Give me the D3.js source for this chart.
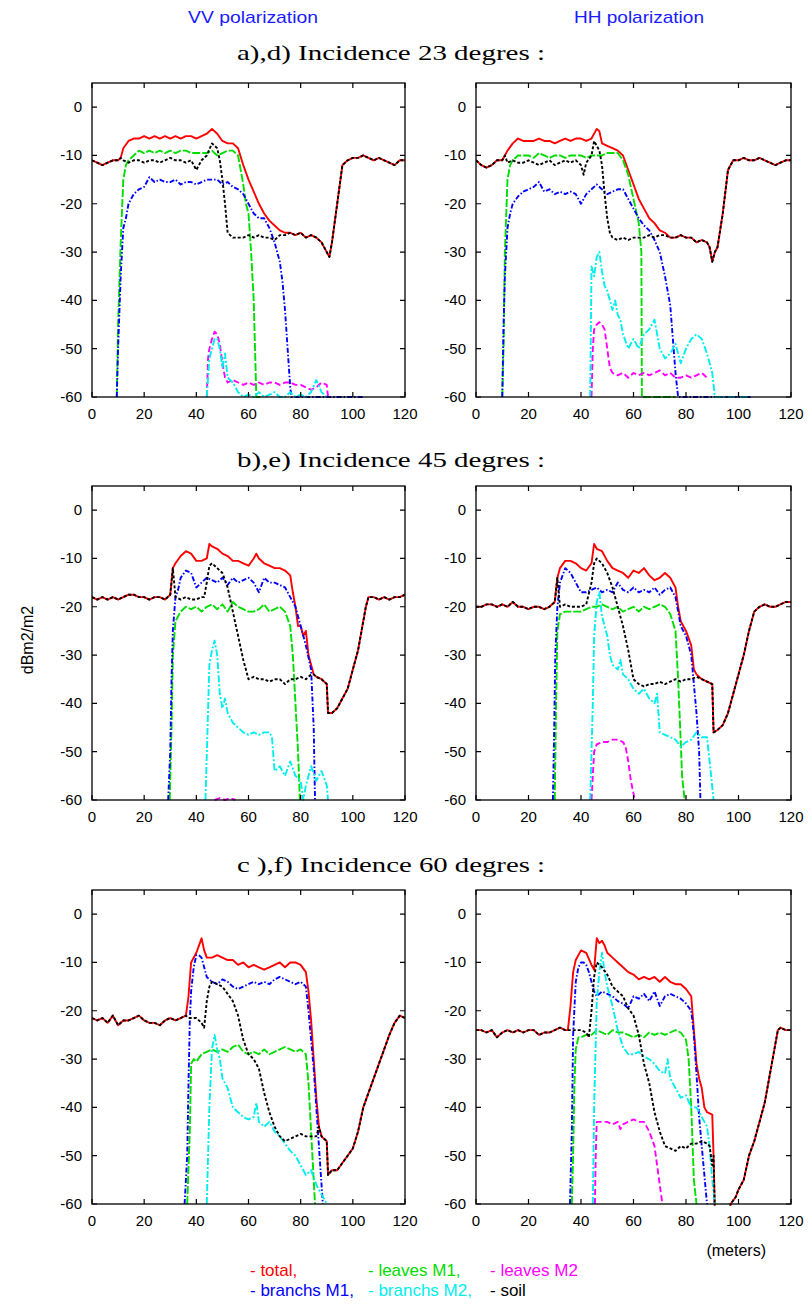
<!DOCTYPE html>
<html>
<head>
<meta charset="utf-8">
<script src="https://cdn.jsdelivr.net/npm/d3@7"></script>
<style>
  body { margin: 0; background: #fff; }
  svg { display: block; }
</style>
</head>
<body>
<div id="container"></div>
<script>
var xTicks = [0, 20, 40, 60, 80, 100, 120];
var yTicks = [0, -10, -20, -30, -40, -50, -60];
var seriesNames = ["total", "leaves M1", "leaves M2", "branchs M1", "branchs M2", "soil"];
var colNames = ["VV polarization", "HH polarization"];
var rowTitles = ["a),d) Incidence 23 degres :", "b),e) Incidence 45 degres :", "c ),f) Incidence 60 degres :"];

/* VV, 23 deg */
var vv23Total = [[0,-11],[2,-11.5],[4,-12],[6,-11.5],[8,-11],[10,-11],[11,-10.5],[12,-8.5],[14,-7],[16,-6.5],[18,-6.5],[20,-6],[22,-6.5],[24,-6],[26,-6.5],[28,-6],[30,-6.5],[32,-6],[34,-6.5],[36,-6],[38,-6],[40,-6.5],[42,-6],[44,-5.5],[46,-4.5],[48,-5.5],[50,-7],[52,-7.5],[54,-7.5],[56,-8.5],[58,-12],[60,-15],[62,-17.5],[64,-20],[66,-22],[68,-23.5],[70,-24.5],[72,-25.5],[74,-26],[76,-26],[78,-26.5],[80,-26],[82,-27],[84,-26.5],[86,-27],[88,-28],[90,-30],[91,-31],[92,-28],[94,-20],[96,-12],[98,-11],[100,-10.5],[102,-10.5],[104,-10],[106,-10.5],[108,-11],[110,-10.5],[112,-11],[114,-11.5],[116,-12],[118,-11],[120,-11]];
var vv23Leaves1 = [[9.5,-60],[10,-45],[11,-28],[12,-15],[13,-12],[14,-11],[16,-10],[18,-9],[20,-9.5],[22,-9],[24,-9.5],[26,-9],[28,-9.5],[30,-9],[32,-9.5],[34,-9],[36,-9],[38,-9.5],[40,-9.5],[42,-9.5],[44,-9.5],[46,-9],[48,-10],[50,-9.5],[52,-9],[54,-9],[56,-10],[57,-13],[58,-16],[59,-20],[60,-22],[61,-30],[62,-40],[62.5,-50],[63,-60],[65,-60]];
var vv23Leaves2 = [[44,-60],[44.5,-52],[45,-50],[46,-48],[47,-46.5],[48,-47],[49,-49],[50,-53],[51,-56],[52,-57],[54,-56.5],[56,-57],[58,-57.5],[60,-57],[62,-57.5],[64,-57],[66,-57.5],[68,-57],[70,-57],[72,-57.5],[74,-57],[76,-57],[78,-57.5],[80,-57.5],[82,-58],[84,-58.5],[86,-58],[88,-57],[90,-57.5],[90.5,-60]];
var vv23Branch1 = [[9.5,-60],[10,-50],[11,-35],[12,-25],[13,-23],[14,-20],[16,-18],[18,-17],[20,-16.5],[22,-14.5],[24,-15.5],[26,-15],[28,-15.5],[30,-15.5],[32,-15],[34,-16],[36,-15.5],[38,-15.5],[40,-16],[42,-15.5],[44,-15],[46,-15],[48,-15],[50,-16],[52,-15.5],[54,-16.5],[56,-17],[58,-18],[60,-20],[62,-22],[64,-23],[66,-23],[68,-25],[70,-28],[72,-32],[73,-36],[74,-42],[75,-50],[76,-58],[76.5,-60],[104,-60]];
var vv23Branch2 = [[44,-60],[45,-52],[46,-50],[47,-48],[48,-48],[49,-50],[50,-54],[51,-51],[52,-56],[54,-57],[56,-59],[58,-60],[60,-59.5],[62,-60],[64,-59],[66,-60],[68,-59.5],[70,-59],[72,-60],[74,-60],[76,-59],[78,-60],[80,-59.5],[82,-60],[84,-59],[86,-56.5],[88,-59],[90,-60]];
var vv23SoilInner = [[12,-11],[14,-11.5],[16,-11],[18,-11],[20,-11.5],[22,-11],[24,-11],[26,-11.5],[28,-11],[30,-10.5],[32,-11],[34,-11],[36,-11.5],[38,-11],[40,-13],[42,-11],[44,-10],[46,-7.5],[48,-8.5],[49,-11],[50,-15],[51,-20],[52,-26],[54,-27],[56,-27],[58,-27],[60,-26.5],[62,-27],[64,-26.5],[66,-27],[68,-27],[70,-27.5],[72,-26.5],[74,-26.5]];

/* HH, 23 deg */
var hh23Total = [[0,-11],[2,-12],[4,-12.5],[6,-12],[8,-11],[10,-11],[11,-10],[12,-9],[14,-7.5],[16,-6.5],[18,-7],[20,-7],[22,-7],[24,-6.5],[26,-7],[28,-7],[30,-7.5],[32,-7],[34,-6.5],[36,-7],[38,-6.5],[40,-6.5],[42,-7],[44,-6.5],[46,-4.5],[47,-5],[48,-7.5],[50,-8],[52,-8.5],[54,-9],[56,-10],[58,-13],[60,-16],[62,-19],[64,-21],[66,-23],[68,-24],[70,-25.5],[72,-26],[74,-27],[76,-27],[78,-26.5],[80,-27],[82,-27],[84,-28],[86,-27.5],[88,-28],[89,-29],[90,-32],[91,-30],[92,-29],[94,-22],[96,-13],[98,-11],[100,-11],[102,-10.5],[104,-11],[106,-11],[108,-10.5],[110,-11],[112,-11.5],[114,-12],[116,-11.5],[118,-11],[120,-11]];
var hh23Leaves1 = [[10,-60],[10.5,-50],[11,-30],[12,-15],[13,-12],[14,-11],[16,-10],[18,-10],[20,-10],[22,-10.5],[24,-9.5],[26,-10],[28,-10.5],[30,-10],[32,-10],[34,-10.5],[36,-10],[38,-10],[40,-10],[42,-10.5],[44,-10],[46,-10],[48,-10],[50,-9.5],[52,-9.5],[54,-9.5],[56,-11],[58,-14],[60,-19],[62,-24],[63,-30],[63.2,-60],[76,-60]];
var hh23Leaves2 = [[44,-60],[44.5,-50],[45,-46],[46,-45],[47,-44.5],[48,-45],[49,-46],[50,-50],[51,-54],[52,-55],[54,-55.5],[56,-55],[58,-56],[60,-55],[62,-55.5],[64,-55],[66,-55.5],[68,-55],[70,-54.5],[72,-55.5],[74,-55],[76,-56],[78,-56],[80,-55.5],[82,-56],[84,-55.5],[86,-55],[88,-56]];
var hh23Branch1 = [[10,-60],[10.5,-45],[11,-35],[12,-25],[13,-22],[14,-20],[16,-18.5],[18,-17.5],[20,-17],[22,-16.5],[24,-15.5],[26,-17.5],[28,-17],[30,-18],[32,-17.5],[34,-18],[36,-17.5],[38,-18],[40,-20],[42,-18],[44,-17],[46,-16],[48,-17],[50,-18],[52,-17.5],[54,-17],[56,-17],[58,-19],[60,-21],[62,-23],[64,-24.5],[66,-25.5],[68,-27.5],[70,-30],[72,-35],[74,-41],[75,-48],[76,-55],[77,-60],[105,-60]];
var hh23Branch2 = [[43.5,-60],[44,-33],[45,-35],[46,-31],[47,-30],[48,-34],[49,-37],[50,-38],[51,-40],[52,-42],[53,-40],[54,-43],[55,-44],[56,-47],[58,-50],[60,-48],[62,-50],[64,-47],[66,-46],[68,-44],[70,-50],[72,-52],[74,-51],[76,-49],[78,-53],[80,-50],[82,-48],[84,-47],[86,-48],[88,-51],[90,-55],[91,-60],[104,-60]];
var hh23SoilInner = [[12,-11.5],[14,-11],[16,-11.5],[18,-11.5],[20,-11],[22,-11.5],[24,-12],[26,-11.5],[28,-11],[30,-12],[32,-11.5],[34,-11],[36,-11.5],[38,-11],[40,-12],[41,-14],[42,-11.5],[44,-10],[45,-7],[46,-8],[47,-9],[48,-12],[49,-18],[50,-23],[51,-26],[52,-27],[54,-27.5],[56,-27],[58,-27.5],[60,-27],[62,-27],[64,-27],[66,-26.5],[68,-27],[70,-26.5],[72,-26.5]];

/* VV, 45 deg */
var vv45Total = [[0,-18],[2,-18.5],[4,-18],[6,-18.5],[8,-18],[10,-18.5],[12,-18],[14,-17.5],[16,-17.5],[18,-18],[20,-18],[22,-18.5],[24,-18],[26,-18],[28,-18.5],[30,-17.5],[31,-12],[32,-11],[34,-9.5],[36,-8.5],[38,-9],[40,-10.5],[42,-10.5],[44,-10],[45,-7],[46,-7.5],[48,-8],[50,-9],[52,-9.5],[54,-10.5],[56,-10.5],[58,-11],[60,-11.5],[62,-10],[63,-9],[64,-10],[66,-11],[68,-11.5],[70,-12],[72,-12],[74,-12.5],[76,-13.5],[77,-17],[78,-20],[79,-24],[80,-24],[81,-26],[82,-25],[83,-30],[84,-32],[85,-34],[86,-34.5],[88,-35],[90,-36],[90.5,-42],[92,-42],[94,-41],[96,-39],[98,-37],[100,-33],[102,-29],[104,-23],[105,-20],[106,-18],[108,-18],[110,-18.5],[112,-18],[114,-18.5],[116,-18],[118,-18],[120,-17.5]];
var vv45Leaves1 = [[29.8,-60],[30.5,-45],[31,-30],[32,-23],[34,-21],[36,-20],[38,-20.5],[40,-20],[42,-21],[44,-20],[46,-19.5],[48,-20.5],[50,-19.5],[52,-21],[54,-19],[56,-20],[58,-20.5],[60,-21],[62,-21],[64,-20.5],[66,-19.5],[68,-21],[70,-20.5],[72,-20],[74,-21],[76,-24],[77,-30],[78,-40],[79,-50],[79.7,-60]];
var vv45Leaves2 = [[47,-60],[49,-59.6],[51,-60],[53,-59.6],[55,-60]];
var vv45Branch1 = [[29.2,-60],[30,-50],[30.5,-35],[31,-25],[32,-18],[33,-16.5],[34,-14],[36,-12.5],[38,-13],[40,-16],[42,-15],[44,-14],[46,-14.5],[48,-15],[50,-14],[52,-15.5],[54,-14],[56,-15],[58,-14.5],[60,-14],[62,-15],[64,-17],[66,-14],[68,-15],[70,-15],[72,-15.5],[74,-16],[76,-18],[78,-20],[80,-24],[82,-28],[84,-33],[85,-45],[85.5,-60]];
var vv45Branch2 = [[43.5,-60],[45,-32],[46,-29],[47,-27],[48,-30],[49,-38],[50,-41],[51,-39],[52,-42],[54,-44],[56,-45],[58,-46],[60,-46.5],[62,-46],[64,-46.5],[66,-46],[68,-46],[69,-47],[70,-54],[72,-53],[74,-55],[76,-52],[78,-55],[80,-56],[81,-60],[82,-57],[84,-53],[86,-56],[88,-54],[90,-57],[90.5,-60]];
var vv45SoilInner = [[32,-18],[34,-18.5],[36,-18],[38,-18.5],[40,-18.5],[42,-18],[43,-18],[44,-15],[45,-11.5],[46,-11],[48,-12],[50,-13],[52,-16],[54,-21],[56,-26],[58,-31],[60,-35],[62,-34.5],[64,-35],[66,-35],[68,-35.5],[70,-35],[72,-35],[74,-36],[76,-35],[78,-35],[80,-34.5],[82,-35],[84,-34]];

/* HH, 45 deg */
var hh45Total = [[0,-20],[2,-20],[4,-19.5],[6,-19.5],[8,-20],[10,-19.5],[12,-20],[14,-19],[16,-20],[18,-20],[20,-20.5],[22,-20],[24,-20],[26,-20.5],[28,-20],[30,-19],[31,-14],[32,-12],[34,-10.5],[36,-10.5],[38,-11],[40,-12],[42,-12.5],[44,-11],[45,-7],[46,-8],[48,-8.5],[50,-10.5],[52,-12],[54,-12.5],[56,-13],[58,-14],[60,-12.5],[62,-13],[64,-12],[66,-13.5],[68,-14.5],[70,-14],[72,-13],[74,-14],[76,-16],[77,-20],[78,-23],[80,-25],[82,-28],[83,-33],[84,-34],[86,-35],[88,-35.5],[90,-36],[90.5,-46],[92,-45.5],[94,-44.5],[96,-42],[98,-38],[100,-34],[102,-30],[104,-25],[106,-21],[108,-20],[110,-19.5],[112,-20],[114,-20],[116,-19.5],[118,-19],[120,-19]];
var hh45Leaves1 = [[30,-60],[30.5,-40],[31,-25],[32,-21.5],[34,-21],[36,-21],[38,-21],[40,-21],[42,-20.5],[44,-20],[46,-20],[48,-19.5],[50,-20],[52,-20.5],[54,-20],[56,-21],[58,-20.5],[60,-20],[62,-21],[64,-20],[66,-20.5],[68,-20],[70,-19.5],[72,-20],[74,-21.5],[76,-25],[77,-35],[78,-48],[78.5,-55],[79.5,-60]];
var hh45Leaves2 = [[44,-60],[44.5,-55],[45,-50],[46,-48.5],[48,-48],[50,-48],[52,-47.5],[54,-47.5],[56,-48],[57,-49],[58,-52],[59,-56],[60.5,-60]];
var hh45Branch1 = [[29.3,-60],[29.8,-45],[30.2,-30],[31,-20],[32,-15],[34,-12],[36,-13],[38,-15],[40,-17],[42,-17],[44,-16.5],[46,-16],[48,-17],[50,-16.5],[52,-17],[54,-15],[56,-16.5],[58,-17],[60,-16],[62,-17],[64,-16.5],[66,-17],[68,-16],[70,-17.5],[72,-16.5],[74,-16],[76,-18],[78,-24],[80,-26],[82,-30],[83,-36],[84,-42],[85,-50],[85.5,-60]];
var hh45Branch2 = [[43.5,-60],[44.5,-40],[45,-26],[46,-19],[47,-17],[48,-22],[49,-24],[50,-26],[51,-30],[52,-32],[54,-33],[55,-31],[56,-34],[58,-35],[60,-37],[62,-38],[64,-37],[66,-39],[68,-40],[69,-38],[70,-46],[72,-46.5],[74,-47],[76,-47.5],[78,-49],[80,-48],[82,-47.5],[84,-46],[86,-47],[88,-47],[89,-52],[90.5,-60]];
var hh45SoilInner = [[32,-20],[34,-19.5],[36,-20],[38,-20],[40,-20],[42,-19.5],[44,-15],[45,-11],[46,-10],[48,-11],[50,-13],[52,-16],[54,-20],[56,-24],[58,-29],[60,-35],[62,-36],[64,-36.5],[66,-36],[68,-36],[70,-35.5],[72,-36],[74,-35.5],[76,-35],[78,-35.5],[80,-35],[82,-35],[84,-34.5]];

/* VV, 60 deg */
var vv60Total = [[0,-21.5],[2,-22],[4,-21.5],[6,-22.5],[8,-21],[10,-23],[12,-22],[14,-22],[16,-21.5],[18,-21],[20,-22],[22,-22.5],[24,-22.5],[26,-23],[28,-22],[30,-21.5],[32,-22],[34,-21.5],[36,-21],[37,-17],[38,-10],[40,-8],[41,-6.5],[42,-5],[43,-7.5],[44,-9],[46,-9],[48,-8.5],[50,-9],[52,-9.5],[54,-9.5],[56,-10.5],[58,-10],[60,-11],[62,-10.5],[64,-11],[66,-11.5],[68,-11],[70,-10.5],[72,-10],[74,-11],[76,-10],[78,-10],[80,-10.5],[82,-12],[83,-16],[84,-22],[85,-30],[86,-38],[87,-44],[88,-46],[90,-47],[90.5,-54],[92,-53],[94,-53],[96,-51.5],[98,-50],[100,-48.5],[102,-45],[104,-40],[106,-37],[108,-34],[110,-31],[112,-28],[114,-25],[116,-22.5],[118,-21],[120,-21.5]];
var vv60Leaves1 = [[36.5,-60],[37.5,-45],[38,-31],[39,-30],[40,-30.5],[42,-29],[44,-28.5],[46,-28],[48,-28.5],[50,-28],[52,-28.5],[54,-27.5],[56,-27],[58,-28.5],[60,-29],[62,-28.5],[64,-29],[66,-28],[68,-29],[70,-28.5],[72,-28],[74,-27.5],[76,-28],[78,-28.5],[80,-28],[82,-29],[83,-35],[84,-45],[85,-55],[85.5,-60]];
var vv60Leaves2 = [];
var vv60Branch1 = [[35.5,-60],[36.5,-50],[37,-35],[37.5,-22],[38,-16],[39,-11],[40,-8.5],[41,-8.5],[42,-9],[43,-11],[44,-13],[46,-14],[48,-14.5],[50,-13.5],[52,-14],[54,-15],[56,-15.5],[58,-15],[60,-14.5],[62,-14],[64,-14.5],[66,-14],[68,-14.5],[70,-13.5],[72,-13],[74,-13.5],[76,-14],[78,-14.5],[80,-14],[82,-15],[83,-20],[84,-26],[85,-32],[86,-40],[87,-48],[88,-56],[88.5,-60]];
var vv60Branch2 = [[44,-60],[45,-40],[46,-28],[47,-25],[48,-28],[49,-30],[50,-34],[52,-36],[54,-40],[56,-41],[58,-42],[60,-42.5],[62,-42],[63,-39],[64,-43],[66,-44],[68,-43],[70,-45],[72,-46],[74,-47.5],[76,-49],[78,-50],[80,-52],[82,-54],[84,-53],[86,-56],[88,-58],[89,-59],[90,-60]];
var vv60SoilInner = [[37,-21.5],[38,-21.5],[40,-21.5],[42,-22.5],[43,-23.5],[44,-18],[45,-15],[46,-14],[48,-14.5],[50,-15],[52,-16.5],[54,-18],[56,-21],[58,-26],[60,-29],[62,-30],[64,-32],[66,-37],[68,-41],[70,-44],[72,-46],[74,-47],[76,-46.5],[78,-46],[80,-45.5],[82,-46],[84,-46],[86,-46]];

/* HH, 60 deg */
var hh60Total = [[0,-24],[2,-24],[4,-24.5],[6,-24],[8,-25.5],[10,-24.5],[12,-24],[14,-24.5],[16,-24],[18,-24.5],[20,-24],[22,-24],[24,-25],[26,-24.5],[28,-24.5],[30,-24],[32,-23.5],[34,-24],[35,-24],[36,-19],[37,-12],[38,-9.5],[40,-7.5],[42,-8],[44,-10.5],[45,-11.5],[46,-5],[47,-6],[48,-5.5],[49,-6.5],[50,-8],[52,-9],[54,-10],[56,-11],[58,-12],[60,-12.5],[62,-13.5],[64,-13],[66,-13.5],[68,-13],[70,-14],[72,-13],[74,-14],[76,-14.5],[78,-14.5],[80,-15.5],[82,-17],[83,-24],[84,-31],[85,-34],[86,-36],[87,-40],[88,-41],[90,-41.5],[90.5,-50],[91,-62],[96,-63],[97,-60],[99,-58.5],[100,-57],[102,-55],[104,-50],[106,-47],[108,-43],[110,-39],[112,-33],[114,-27],[115,-24],[116,-23.5],[118,-24],[120,-24]];
var hh60Leaves1 = [[36.5,-60],[37,-50],[37.5,-35],[38,-28],[39,-25.5],[40,-25.5],[42,-25],[44,-25],[46,-24],[48,-24.5],[50,-25],[52,-24],[54,-24.5],[56,-24.5],[58,-25],[60,-25.5],[62,-25],[64,-25.5],[66,-24.5],[68,-25],[70,-24.5],[72,-25],[74,-24.5],[76,-24],[78,-24.5],[80,-26],[81,-30],[82,-40],[83,-55],[84,-60]];
var hh60Leaves2 = [[45.3,-60],[45.6,-50],[46,-43],[48,-43],[50,-43],[52,-43.5],[54,-43],[55,-44.5],[56,-43.5],[58,-43],[60,-42.5],[62,-43],[64,-43],[66,-45],[68,-48],[69,-52],[70,-56],[71,-60]];
var hh60Branch1 = [[35.8,-60],[36.5,-45],[37,-25],[38,-14],[39,-11],[40,-10],[41,-10],[42,-10.5],[43,-12],[44,-14],[45,-16],[46,-17],[48,-16],[50,-16.5],[52,-17],[54,-18],[56,-18.5],[58,-19.5],[60,-17],[62,-17.5],[64,-16.5],[66,-18],[68,-16],[70,-19],[72,-17],[74,-16.5],[76,-17],[78,-17.5],[80,-18.5],[82,-20],[83,-25],[84,-33],[85,-42],[86,-48],[87,-54],[88,-60]];
var hh60Branch2 = [[44.5,-60],[45,-40],[46,-18],[47,-12],[48,-8],[49,-12],[50,-15],[52,-19],[54,-24],[56,-27.5],[58,-29],[60,-29],[62,-28.5],[64,-29.5],[66,-30],[68,-31],[70,-32.5],[72,-33],[73,-30],[74,-34],[76,-36],[78,-38],[80,-37.5],[82,-40],[84,-40],[86,-42],[88,-44],[89,-48],[90,-55],[91,-60]];
var hh60SoilInner = [[36,-24],[38,-24],[40,-24],[42,-24.5],[43,-25.5],[44,-20],[45,-13],[46,-10],[47,-10.5],[48,-11],[50,-12.5],[52,-15],[54,-16],[56,-17],[58,-19.5],[60,-21],[62,-25],[64,-31],[66,-35],[68,-41],[70,-45],[72,-48],[74,-48.5],[76,-49],[78,-48],[80,-48.5],[82,-47.5],[84,-47.5],[86,-47],[88,-47.5],[89,-48],[90,-52]];

/* soil follows the total outside the canopy */
function soilOf(total, inner) {
  var lo = inner[0][0], hi = inner[inner.length - 1][0];
  return total.filter(function(p) { return p[0] < lo; })
    .concat(inner)
    .concat(total.filter(function(p) { return p[0] > hi; }));
}

var panels = [
  { col: 0, row: 0, series: [vv23Total, vv23Leaves1, vv23Leaves2, vv23Branch1, vv23Branch2, soilOf(vv23Total, vv23SoilInner)] },
  { col: 1, row: 0, series: [hh23Total, hh23Leaves1, hh23Leaves2, hh23Branch1, hh23Branch2, soilOf(hh23Total, hh23SoilInner)] },
  { col: 0, row: 1, series: [vv45Total, vv45Leaves1, vv45Leaves2, vv45Branch1, vv45Branch2, soilOf(vv45Total, vv45SoilInner)] },
  { col: 1, row: 1, series: [hh45Total, hh45Leaves1, hh45Leaves2, hh45Branch1, hh45Branch2, soilOf(hh45Total, hh45SoilInner)] },
  { col: 0, row: 2, series: [vv60Total, vv60Leaves1, vv60Leaves2, vv60Branch1, vv60Branch2, soilOf(vv60Total, vv60SoilInner)] },
  { col: 1, row: 2, series: [hh60Total, hh60Leaves1, hh60Leaves2, hh60Branch1, hh60Branch2, soilOf(hh60Total, hh60SoilInner)] }
];

var colors = ["#ff0000", "#00dd00", "#ff00ff", "#0000ff", "#00eeee", "#000000"];
var dashes = [null, "8,2", "6,3", "5,2,1.5,2", "7,2,2,2", "3,2"];

var width = 812, height = 1304;
var colX = [[92, 405], [476, 791]];
var rowY = [[83, 397], [486, 800], [890, 1204]];
var titleY = [60, 467, 872];

var svg = d3.select("#container").append("svg")
  .attr("width", width)
  .attr("height", height)
  .style("background", "#fff");

var sans = "'Liberation Sans', Arial, sans-serif";
var serif = "'Liberation Serif', 'Times New Roman', serif";

svg.selectAll(".colname")
  .data(colNames)
  .enter().append("text")
  .attr("x", function(d, i) { return [253, 639][i]; })
  .attr("y", 23)
  .attr("text-anchor", "middle")
  .attr("font-family", sans)
  .attr("font-size", 17)
  .attr("fill", "#1a1aff")
  .attr("textLength", 130)
  .attr("lengthAdjust", "spacingAndGlyphs")
  .text(function(d) { return d; });

svg.selectAll(".rowtitle")
  .data(rowTitles)
  .enter().append("text")
  .attr("x", 391)
  .attr("y", function(d, i) { return titleY[i]; })
  .attr("text-anchor", "middle")
  .attr("font-family", serif)
  .attr("font-size", 22)
  .attr("fill", "#000")
  .attr("textLength", 308)
  .attr("lengthAdjust", "spacingAndGlyphs")
  .text(function(d) { return d; });

panels.forEach(function(p, idx) {
  var x0 = colX[p.col][0], x1 = colX[p.col][1];
  var y0 = rowY[p.row][0], y1 = rowY[p.row][1];

  var x = d3.scaleLinear().domain([0, 120]).range([x0, x1]);
  var y = d3.scaleLinear().domain([-60, 5]).range([y1, y0]);

  var g = svg.append("g");

  svg.append("clipPath")
    .attr("id", "clip-" + idx)
    .append("rect")
    .attr("x", x0).attr("y", y0 - 1)
    .attr("width", x1 - x0).attr("height", y1 - y0 + 2.5);

  var line = d3.line()
    .x(function(d) { return x(d[0]); })
    .y(function(d) { return y(d[1]); });

  var lines = g.append("g").attr("clip-path", "url(#clip-" + idx + ")");
  p.series.forEach(function(s, k) {
    if (!s.length) return;
    lines.append("path")
      .datum(s)
      .attr("d", line)
      .attr("fill", "none")
      .attr("stroke", colors[k])
      .attr("stroke-width", 1.9)
      .attr("stroke-dasharray", dashes[k])
      .attr("stroke-linejoin", "round");
  });

  // frame and inward ticks on all four sides
  g.append("rect")
    .attr("x", x0).attr("y", y0)
    .attr("width", x1 - x0).attr("height", y1 - y0)
    .attr("fill", "none").attr("stroke", "#000").attr("stroke-width", 1.3);

  var tl = 5;
  g.selectAll(".xt")
    .data(xTicks)
    .enter().append("path")
    .attr("d", function(d) {
      return "M" + x(d) + "," + y1 + "v" + (-tl) + "M" + x(d) + "," + y0 + "v" + tl;
    })
    .attr("stroke", "#000").attr("stroke-width", 1.2);

  g.selectAll(".yt")
    .data(yTicks)
    .enter().append("path")
    .attr("d", function(d) {
      return "M" + x0 + "," + y(d) + "h" + tl + "M" + x1 + "," + y(d) + "h" + (-tl);
    })
    .attr("stroke", "#000").attr("stroke-width", 1.2);

  g.selectAll(".xl")
    .data(xTicks)
    .enter().append("text")
    .attr("x", function(d) { return x(d); })
    .attr("y", y1 + 22)
    .attr("text-anchor", "middle")
    .attr("font-family", sans)
    .attr("font-size", 15)
    .text(function(d) { return d; });

  g.selectAll(".yl")
    .data(yTicks)
    .enter().append("text")
    .attr("x", x0 - 10)
    .attr("y", function(d) { return y(d) + 5; })
    .attr("text-anchor", "end")
    .attr("font-family", sans)
    .attr("font-size", 15)
    .text(function(d) { return d; });
});

svg.append("text")
  .attr("transform", "translate(33,640) rotate(-90)")
  .attr("text-anchor", "middle")
  .attr("font-family", sans)
  .attr("font-size", 16)
  .text("dBm2/m2");

svg.append("text")
  .attr("x", 766)
  .attr("y", 1256)
  .attr("text-anchor", "end")
  .attr("font-family", sans)
  .attr("font-size", 16)
  .text("(meters)");

var legendText = ["- total,", "- leaves M1,", "- leaves M2", "- branchs M1,", "- branchs M2,", "- soil"];
svg.selectAll(".legend")
  .data(seriesNames)
  .enter().append("text")
  .attr("x", function(d, i) { return [250, 368, 490][i % 3]; })
  .attr("y", function(d, i) { return i < 3 ? 1276 : 1296; })
  .attr("font-family", sans)
  .attr("font-size", 17)
  .attr("fill", function(d, i) { return colors[i]; })
  .text(function(d, i) { return legendText[i]; });
</script>
</body>
</html>
